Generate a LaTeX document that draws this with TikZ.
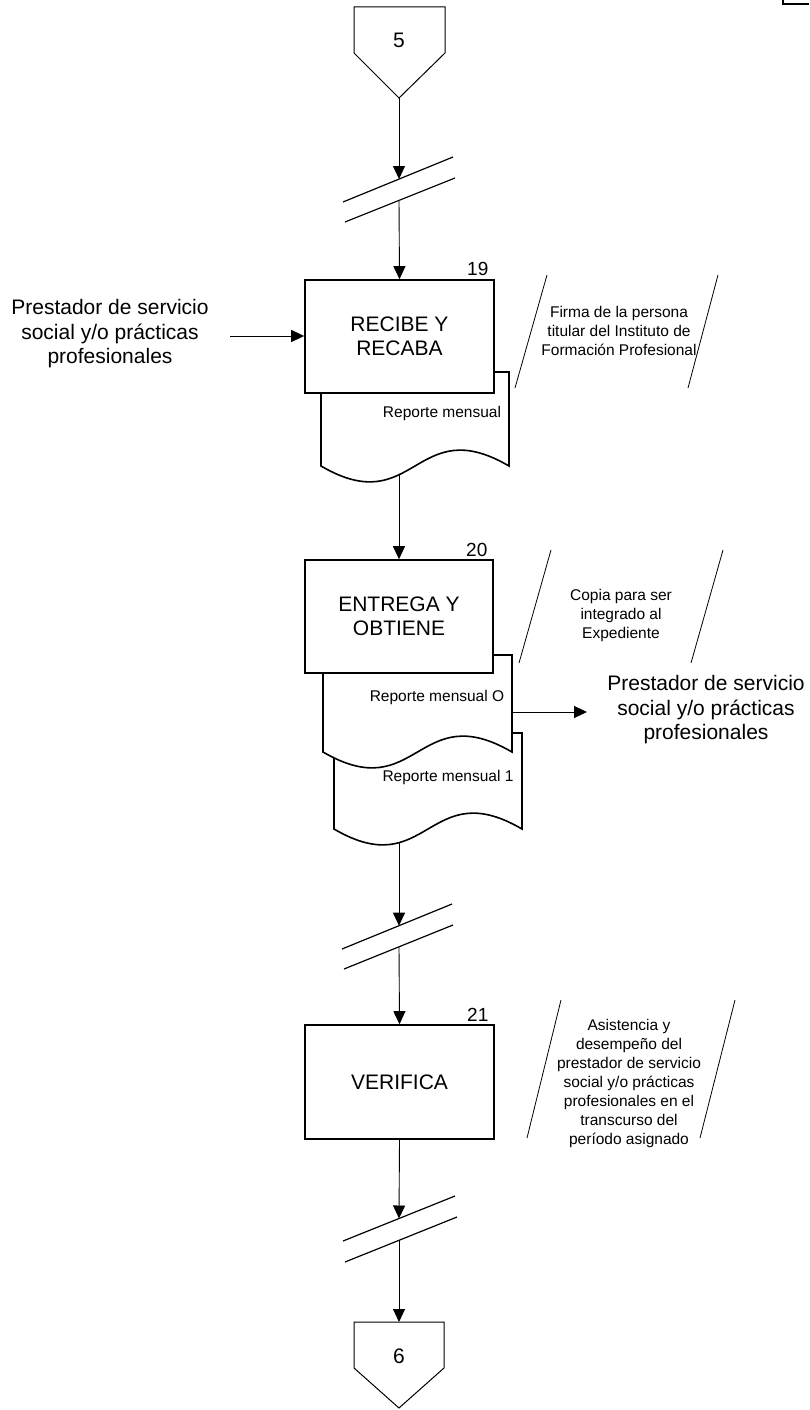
\documentclass[tikz,border=0pt]{standalone}
\usepackage{fontspec}
\setmainfont{Liberation Sans}
\usetikzlibrary{arrows.meta}
\begin{document}
\begin{tikzpicture}[x=1pt,y=-1pt,
  proc/.style={draw, line width=1.6pt, fill=white, minimum width=189pt, minimum height=113pt, align=center, font=\fontsize{21}{24}\selectfont, inner sep=0pt},
  big/.style={align=center, font=\fontsize{21}{24.5}\selectfont, inner sep=0pt},
  small/.style={align=center, font=\fontsize{15.5}{19}\selectfont, inner sep=0pt},
  num/.style={font=\fontsize{19}{19}\selectfont, anchor=base, inner sep=0pt},
  flow/.style={line width=0.9pt, -{Triangle[length=13pt,width=12pt]}},
  docu/.style={draw, line width=1.6pt, fill=white},
  brk/.style={line width=1.2pt},
  annot/.style={line width=0.8pt},
  conn/.style={draw, line width=1pt, fill=white}
]
\useasboundingbox (0,0) rectangle (809,1410);

% page corner
\draw[line width=2pt] (783,0) -- (783,4) -- (809,4);

% off-page connector 5
\draw[conn] (354,7) -- (445,7) -- (445,53) -- (399,98) -- (354,53) -- cycle;
\coordinate (c5b) at (399,98);
\node[big] (t5) at (399,40) {5};

% top break
\coordinate (br1u) at (399,179);
\coordinate (br1l) at (399,200.5);
\draw[brk] (343,202) -- (453,157);
\draw[brk] (345,222) -- (455,178);

% step 19
\draw[docu] (321,372) -- (509,372) -- (509,466) .. controls (415,411) and (415,521) .. (321,466) -- cycle;
\coordinate (d1b) at (399,474.6);
\node[small] (d1t) at (442,413) {Reporte mensual};
\node[proc] (b19) at (399.5,336.5) {RECIBE Y\\RECABA};
\node[num] (n19) at ([xshift=-17pt,yshift=3.5pt]b19.north east) {19};

\node[big] (src) at (110,334) {Prestador de servicio\\social y/o prácticas\\profesionales};
\draw[flow] (230,336) -- (b19.west |- 230,336);

% annotation 19
\draw[annot] (547,275) -- (515,388);
\draw[annot] (718,275) -- (688,388);
\node[small] (a19) at (619,331) {Firma de la persona\\titular del Instituto de\\Formación Profesional};

% step 20
\draw[docu] (334,733) -- (522,733) -- (522,829) .. controls (428,774) and (428,884) .. (334,829) -- cycle;
\coordinate (d3b) at (399,842.6);
\node[small] (d3t) at (448,777) {Reporte mensual 1};
\draw[docu] (323,655) -- (512,655) -- (512,752) .. controls (417.5,697) and (417.5,807) .. (323,752) -- cycle;
\coordinate (d2r) at (512,712);
\node[small] (d2t) at (437,697) {Reporte mensual O};
\node[proc, minimum width=188pt] (b20) at (399,616.5) {ENTREGA Y\\OBTIENE};
\node[num] (n20) at ([xshift=-17pt,yshift=3pt]b20.north east) {20};

\node[big] (dst) at (706,710) {Prestador de servicio\\social y/o prácticas\\profesionales};
\draw[flow] (d2r) -- (587,712);

% annotation 20
\draw[annot] (551,550) -- (519,663);
\draw[annot] (723,550) -- (691,663);
\node[small] (a20) at (621,615) {Copia para ser\\integrado al\\Expediente};

% middle break
\coordinate (br2u) at (399,925.7);
\coordinate (br2l) at (399,947);
\draw[brk] (342,949) -- (452,904);
\draw[brk] (344,969) -- (453,925);

% step 21
\node[proc, minimum height=114pt] (b21) at (399.5,1082) {VERIFICA};
\node[num] (n21) at ([xshift=-17pt,yshift=3pt]b21.north east) {21};

% annotation 21
\draw[annot] (561,1000) -- (527,1138);
\draw[annot] (735,1000) -- (700,1138);
\node[small] (a21) at (629,1083) {Asistencia y\\desempeño del\\prestador de servicio\\social y/o prácticas\\profesionales en el\\transcurso del\\período asignado};

% bottom break
\coordinate (br3u) at (399,1218.5);
\coordinate (br3l) at (399,1240.3);
\draw[brk] (343,1241) -- (455,1196);
\draw[brk] (345,1262) -- (457,1217);

% off-page connector 6
\draw[conn] (354,1322) -- (444,1322) -- (444,1368) -- (399,1408) -- (354,1368) -- cycle;
\coordinate (c6t) at (399,1322);
\node[big] (t6) at (399,1356) {6};

% flow lines
\draw[flow] (c5b) -- (br1u);
\draw[flow] (br1l) -- (b19.north);
\draw[flow] (d1b) -- (b20.north);
\draw[flow] (d3b) -- (br2u);
\draw[flow] (br2l) -- (b21.north);
\draw[flow] (b21.south) -- (br3u);
\draw[flow] (br3l) -- (c6t);
\end{tikzpicture}
\end{document}
